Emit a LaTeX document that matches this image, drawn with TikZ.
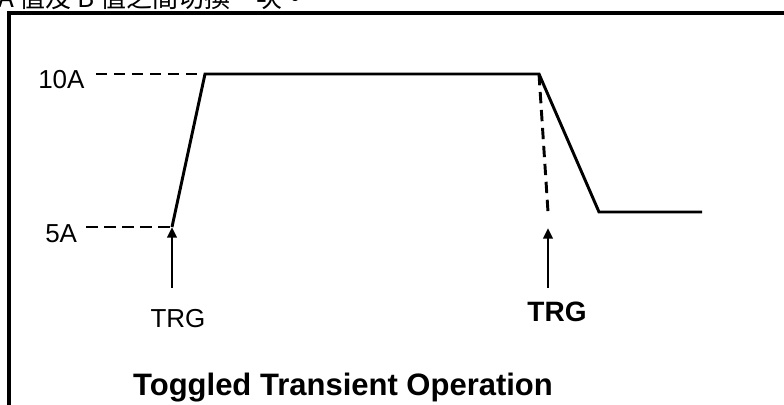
\documentclass[tikz,border=0pt]{standalone}
\usepackage{fontspec}
\setmainfont{Liberation Sans}
\newfontfamily\cjk{Noto Sans CJK TC}
\usetikzlibrary{arrows.meta}

\begin{document}
\begin{tikzpicture}[
    x=0.75pt, y=-0.75pt,
    wave/.style={line width=2.2pt, line join=miter},
    guide/.style={line width=2.2pt, dash pattern=on 8.5pt off 5pt},
    trig/.style={line width=2pt, -{Triangle[width=7pt,length=8pt]}},
    lbl/.style={inner sep=0pt, anchor=base, font=\fontsize{19.5}{22}\selectfont}
]
\useasboundingbox (0,0) rectangle (784,404);
\clip (0,0) rectangle (784,404);

% Text line above the frame (cut off)
\node[inner sep=0pt, anchor=base west, font=\cjk\fontsize{19.5}{22}\selectfont] (note) at (-2,7) {A 值及 B 值之間切換一次。};

% Frame
\draw[line width=2.3pt] (9,420) -- (9,13) -- (800,13);

% Waveform
\coordinate (P0) at (172,227);
\coordinate (P1) at (205,74);
\coordinate (P2) at (539,74);
\coordinate (P3) at (599,212);
\coordinate (P4) at (702,212);
\coordinate (Q) at (548,212);
\draw[wave] (P0) -- (P1) -- (P2) -- (P3) -- (P4);
\draw[guide] (P2) -- (Q);

% Levels
\node[lbl, anchor=base west] (L10) at (38,88) {10A};
\node[lbl, anchor=base west] (L5) at (45,242) {5A};
\path (L10.east |- P1) ++(11,0) coordinate (D10);
\path (L5.east |- P0) ++(9,0) coordinate (D5);
\draw[guide] (D10) -- (P1);
\draw[guide] (D5) -- (P0);

% Triggers
\coordinate (T1) at (172,288);
\coordinate (T2) at (548,288);
\coordinate (H2) at (548,228);
\draw[trig] (T1) -- (P0);
\draw[trig] (T2) -- (H2);
\node[lbl] (TRG1) at (178,327) {TRG};
\node[lbl, font=\bfseries\fontsize{21}{24}\selectfont] (TRG2) at (557,321) {TRG};

% Title
\node[lbl, font=\bfseries\fontsize{23.25}{26}\selectfont] (title) at (343,395) {Toggled Transient Operation};

\end{tikzpicture}
\end{document}
